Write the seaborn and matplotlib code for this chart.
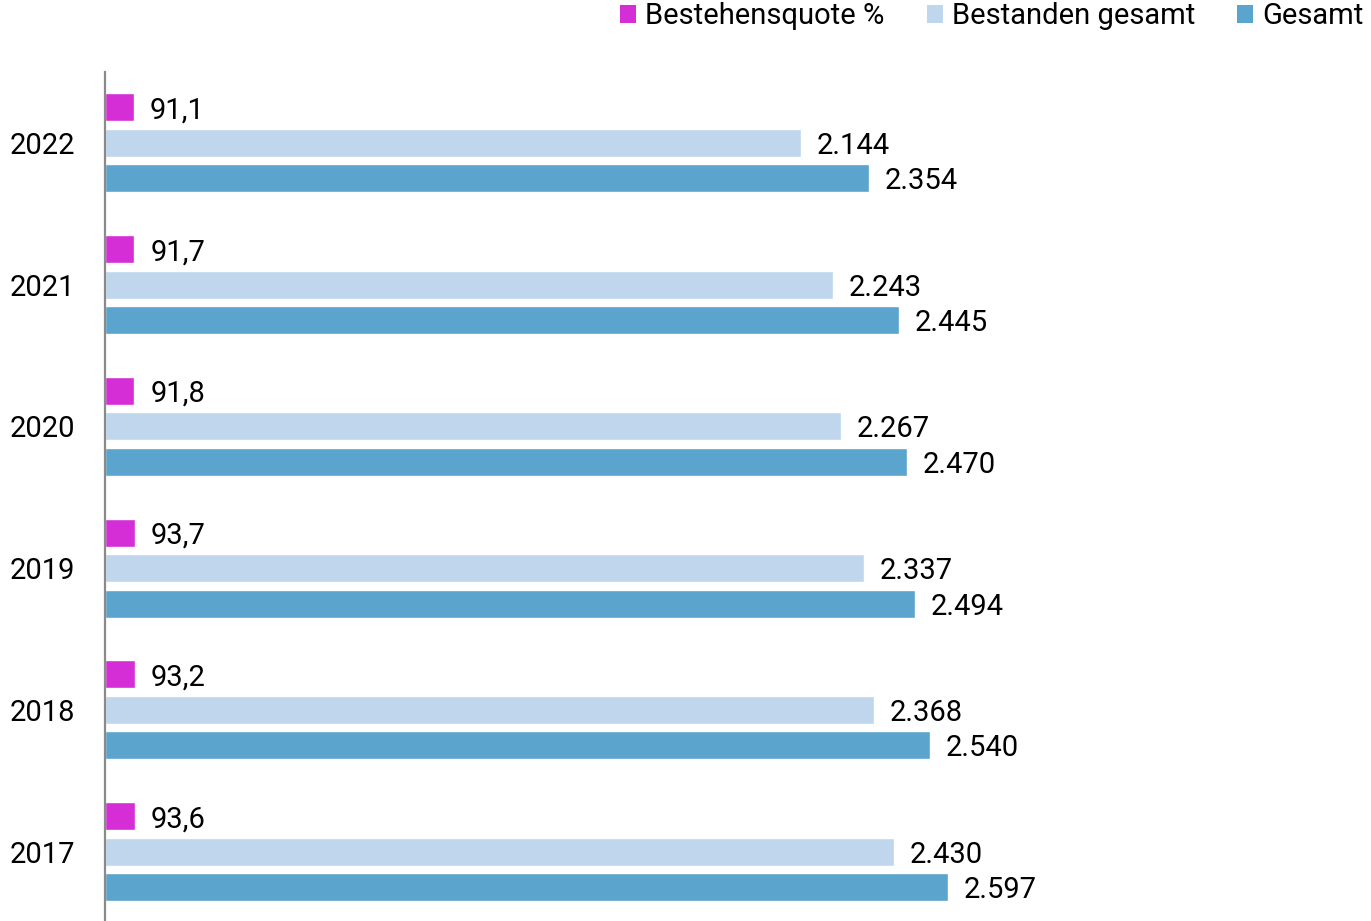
import pandas as pd
import matplotlib.pyplot as plt
import seaborn as sns
from matplotlib.patches import Patch

# --- data ---
years = ['2022', '2021', '2020', '2019', '2018', '2017']
quote = [91.1, 91.7, 91.8, 93.7, 93.2, 93.6]
bestanden = [2144, 2243, 2267, 2337, 2368, 2430]
gesamt = [2354, 2445, 2470, 2494, 2540, 2597]

series = ['Bestehensquote %', 'Bestanden gesamt', 'Gesamt']
colors = ['#D52ED6', '#BFD6EC', '#5BA4CD']

df = pd.DataFrame({'Jahr': years, series[0]: quote,
                   series[1]: bestanden, series[2]: gesamt})
long_df = df.melt(id_vars='Jahr', var_name='Reihe', value_name='Wert')

sns.set_style('white')
plt.rcParams['font.family'] = ['Roboto', 'DejaVu Sans']
plt.rcParams['text.color'] = 'black'

fig = plt.figure(figsize=(13.71, 9.21), dpi=100)
ax = fig.add_axes([104.5 / 1371, 0, 1 - 104.5 / 1371, (921 - 72) / 921])

sns.barplot(data=long_df, y='Jahr', x='Wert', hue='Reihe', order=years,
            hue_order=series, palette=colors, orient='h', width=0.75,
            gap=0.21, saturation=1, legend=False, ax=ax)

ax.set_xlim(0, 3899)
ax.set_ylim(5.49, -0.5)


def de_int(v):
    return f'{int(round(v)):,}'.replace(',', '.')


def de_dec(v):
    return f'{v:.1f}'.replace('.', ',')


for cont, name in zip(ax.containers, series):
    fmt = de_dec if name == series[0] else de_int
    texts = ax.bar_label(cont, labels=[fmt(b.get_width()) for b in cont],
                         padding=11.5, fontsize=21, color='black')
    for t in texts:
        t.set_y(t.get_position()[1])
        t.set_verticalalignment('center_baseline')

for s in ['top', 'right', 'bottom']:
    ax.spines[s].set_visible(False)
ax.spines['left'].set_color('#8a8a8a')
ax.spines['left'].set_linewidth(1.6)
ax.set_xticks([])
ax.tick_params(axis='y', length=0, pad=21, labelsize=21, labelcolor='black')
ax.set_xlabel('')
ax.set_ylabel('')

handles = [Patch(facecolor=c, edgecolor='none') for c in colors]
fig.legend(handles, series, loc='upper right', bbox_to_anchor=(1.003, 1.01),
           ncol=3, frameon=False, fontsize=21, handlelength=0.55,
           handleheight=0.55, handletextpad=0.3, columnspacing=1.45,
           borderaxespad=0, labelcolor='black')

fig.savefig('out.png', dpi=100)
